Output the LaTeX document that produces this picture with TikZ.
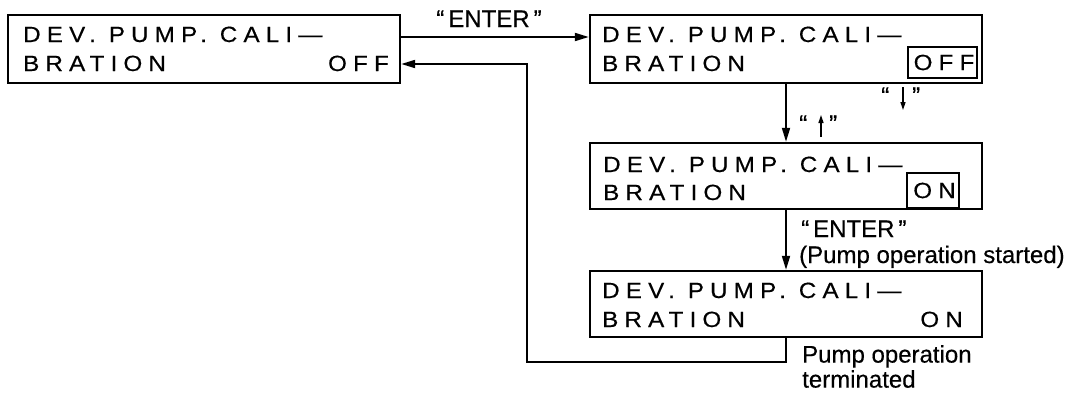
\documentclass[tikz,border=0pt]{standalone}
\usepackage{fontspec}
\setmainfont{Liberation Sans}
\newfontfamily\lcdfont[LetterSpace=28,FakeStretch=1.1,FakeBold=0.4]{Liberation Sans}
\newfontfamily\lblfont[FakeBold=0.4]{Liberation Sans}
\usetikzlibrary{arrows.meta,calc}
\begin{document}
\begin{tikzpicture}[x=1pt,y=-1pt,
  screen/.style={draw, line width=2.4pt, minimum width=392pt, minimum height=68pt, inner sep=0pt},
  lcd/.style={font=\lcdfont\fontsize{22}{25}\selectfont, inner sep=0pt},
  hl/.style={draw, line width=2pt, inner sep=0pt, font=\lcdfont\fontsize{22}{25}\selectfont},
  lbl/.style={font=\lblfont\fontsize{24}{25}\selectfont, inner sep=0pt},
  conn/.style={line width=1.9pt, -{Triangle[length=14pt,width=8pt]}},
  small/.style={line width=1.3pt, -{Triangle[length=8pt,width=5pt]}}]
\useasboundingbox (0,0) rectangle (1074,394);

% screens
\node[screen] (b1) at (204,49) {};
\node[screen] (b2) at (786,49) {};
\node[screen, minimum height=66pt] (b3) at (786,176) {};
\node[screen, minimum height=66pt] (b4) at (786,304) {};

% screen texts
\node[lcd, anchor=base west] (t1a) at (23,42) {DEV. PUMP. CALI—};
\node[lcd, anchor=base west] (t1b) at (23,71) {BRATION};
\node[lcd, anchor=base east] (t1c) at (389,71) {OFF};

\node[lcd, anchor=base west] (t2a) at (602,42) {DEV. PUMP. CALI—};
\node[lcd, anchor=base west] (t2b) at (602,71) {BRATION};
\node[hl, minimum width=69pt, minimum height=31pt] (t2c) at (942.5,62.5) {\hspace{3pt}OFF};

\node[lcd, anchor=base west] (t3a) at (603,172) {DEV. PUMP. CALI—};
\node[lcd, anchor=base west] (t3b) at (603,200) {BRATION};
\node[hl, minimum width=52pt, minimum height=35pt] (t3c) at (933,190.5) {\hspace{3pt}ON};

\node[lcd, anchor=base west] (t4a) at (602,298) {DEV. PUMP. CALI—};
\node[lcd, anchor=base west] (t4b) at (602,327) {BRATION};
\node[lcd, anchor=base east] (t4c) at (963,327) {ON};

% connectors
\draw[conn] ([yshift=12pt]b1.east) -- ([yshift=12pt]b2.west);
\draw[conn] (b2.south) -- (b3.north);
\draw[conn] (b3.south) -- (b4.north);
\coordinate (r1) at (527,362);
\coordinate (r2) at (527,64);
\draw[conn] (b4.south) |- (r1) -- (r2) -- ([yshift=-15pt]b1.east);

% labels
\node[lbl, anchor=base] (l1) at (489,27) {“\,ENTER\,”};
\node[lbl, anchor=base west] (l2) at (801,237) {“\,ENTER\,”};
\node[lbl, anchor=base west] (l3) at (799,263) {(Pump operation started)};
\node[lbl, anchor=north west, align=left] (l4) at (802,345) {Pump operation\\[0pt]terminated};

% key labels
\node[lbl, anchor=base west] (kup) at (799,132) {“\hspace{22pt}”};
\coordinate (kupa) at (821,137);
\coordinate (kupb) at (821,115);
\draw[small] (kupa) -- (kupb);
\node[lbl, anchor=base west] (kdn) at (881,104) {“\hspace{23pt}”};
\coordinate (kdna) at (903,87);
\coordinate (kdnb) at (903,110);
\draw[small] (kdna) -- (kdnb);
\end{tikzpicture}
\end{document}
